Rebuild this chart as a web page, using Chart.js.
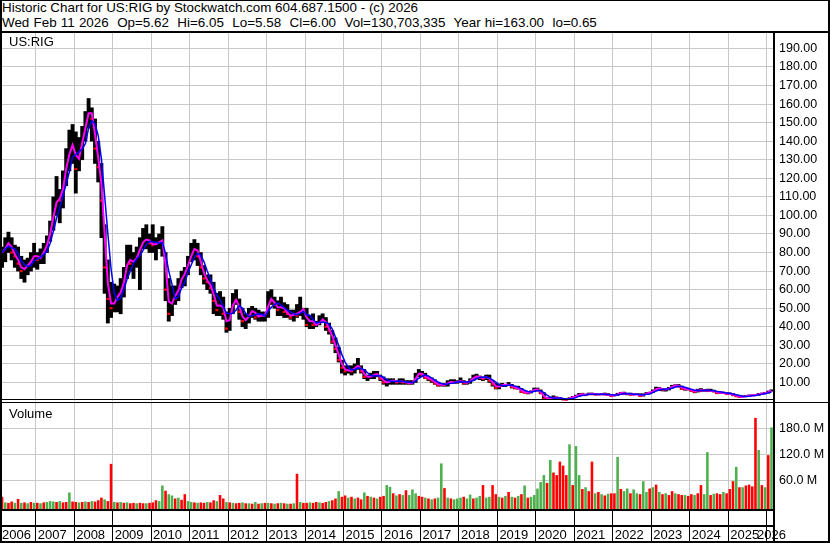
<!DOCTYPE html>
<html>
<head>
<meta charset="utf-8">
<title>Historic Chart for US:RIG</title>
<script src="https://cdn.jsdelivr.net/npm/chart.js@4.4.1/dist/chart.umd.min.js"></script>
<style>
  html, body { margin: 0; padding: 0; background: #fff; }
  #pagina { position: relative; width: 830px; height: 543px; overflow: hidden; font-family: "Liberation Sans", Arial, sans-serif; color: #000; }
  #pagina canvas { position: absolute; left: 0; }
  .linha { position: absolute; background: #000; }
  .rotulo { position: absolute; font-size: 13px; line-height: 13px; white-space: pre; }
  .cab { position: absolute; left: 2px; font-size: 13.4px; line-height: 14.7px; white-space: pre; }
  #moldura { position: absolute; left: 0; top: 0; width: 830px; height: 543px; box-sizing: border-box;
             border-style: solid; border-color: #000; border-width: 1px 2px 2px 2px; }
</style>
</head>
<body>
<div id="pagina">
  <canvas id="precos" width="830" height="368" style="top:33px"></canvas>
  <canvas id="volume" width="830" height="140" style="top:403px"></canvas>

  <div class="cab" style="top:1px">Historic Chart for US:RIG by Stockwatch.com 604.687.1500 - (c) 2026</div>
  <div class="cab" style="top:15.7px;word-spacing:0.5px">Wed Feb 11 2026  Op=5.62  Hi=6.05  Lo=5.58  Cl=6.00  Vol=130,703,335  Year hi=163.00  lo=0.65</div>

  <!-- separadores do layout -->
  <div class="linha" style="left:0;top:31px;width:830px;height:2px"></div>
  <div class="linha" style="left:773px;top:33px;width:2px;height:510px"></div>
  <div class="linha" style="left:0;top:399px;width:775px;height:1px"></div>
  <div class="linha" style="left:0;top:402px;width:830px;height:1px"></div>
  <div class="linha" style="left:0;top:509px;width:775px;height:2px"></div>
  <div class="linha" style="left:0;top:525px;width:775px;height:2px"></div>

  <div class="rotulo" style="left:9px;top:35px">US:RIG</div>
  <div class="rotulo" style="left:9px;top:407px">Volume</div>
  <div id="moldura"></div>
</div>

<script>
// Eixos / rótulos
const yearLabels = ['2006', '2007', '2008', '2009', '2010', '2011', '2012', '2013', '2014', '2015', '2016',
                    '2017', '2018', '2019', '2020', '2021', '2022', '2023', '2024', '2025', '2026'];
const priceTicks = [10, 20, 30, 40, 50, 60, 70, 80, 90, 100, 110, 120, 130, 140, 150, 160, 170, 180, 190];
const volumeTicks = [60, 120, 180];

// Dados mensais, de fev/2006 até fev/2026
const firstYear = 2006;
const firstMonth = 2;

const highs = [
  83, 88, 91, 88, 84, 83, 78, 76, 77, 80, 85,
  80, 82, 85, 89, 97, 110, 121, 114, 124, 136, 146, 149,
  145, 142, 148, 156, 163, 158, 152, 140, 128, 95, 76, 64,
  63, 62, 66, 72, 84, 84, 80, 83, 88, 93, 95, 90,
  95, 88, 90, 94, 80, 66, 62, 62, 66, 70, 72, 78,
  85, 87, 85, 80, 73, 68, 68, 64, 58, 59, 56, 48,
  50, 58, 60, 55, 50, 47, 50, 51, 50, 49, 48, 48,
  59, 60, 56, 54, 56, 53, 52, 49, 49, 52, 56, 50,
  50, 46, 47, 43, 46, 47, 45, 42, 38, 34, 29, 22,
  19, 19, 19, 20, 23, 19, 17, 14, 15, 16, 16, 14,
  13, 12, 12, 12, 11, 12, 12, 11, 11, 11, 15, 17,
  16, 15, 13, 12.5, 11.5, 10, 9.5, 9.5, 11, 11.5, 11.5, 11,
  12.5, 11, 10.5, 12, 14, 14.5, 13.5, 13, 14, 14, 11, 9.5,
  9.2, 9.5, 9, 10, 9, 8, 8, 6.8, 5.3, 4.8, 5.5, 7,
  7, 6, 4.5, 1.8, 2, 2.8, 2.2, 1.9, 1.2, 1.0, 1.8, 2.5,
  3.2, 4.1, 4.2, 3.7, 4.3, 4.3, 4, 3.7, 4, 4.3, 4, 3.3,
  3.4, 4.2, 4.7, 4.8, 4.2, 4.3, 3.8, 4, 3.9, 3.9, 4.6, 4.8,
  6, 7.5, 7.4, 6.6, 6.4, 7.4, 8.5, 8.8, 8.9, 8.1, 6.8, 6.9,
  6.4, 5.6, 6.4, 6.7, 6.2, 6.4, 6.4, 5.9, 5.3, 4.8, 4.8, 4.6,
  4.4, 4, 3.4, 2.7, 2.8, 2.9, 3.3, 3.3, 3.4, 4.1, 4.3, 4.6,
  5.4, 6.05
];

const lows = [
  72, 75, 80, 76, 72, 70, 66, 64, 68, 70, 72,
  71, 74, 74, 80, 86, 92, 100, 96, 104, 116, 124, 128,
  112, 124, 130, 140, 147, 140, 128, 118, 88, 58, 42, 45,
  48, 48, 47, 56, 66, 70, 66, 72, 60, 82, 82, 80,
  80, 76, 82, 78, 54, 43, 46, 52, 54, 61, 62, 68,
  75, 76, 73, 68, 63, 60, 58, 47, 46, 46, 44, 37,
  38, 47, 52, 44, 40, 39, 42, 45, 44, 43, 43, 43,
  45, 52, 50, 46, 46, 45, 45, 44, 43, 45, 46, 44,
  40, 39, 39, 40, 41, 43, 38, 36, 31, 26, 21, 15,
  14, 15, 14, 15, 17, 15, 12, 11, 12, 12, 13, 11,
  9, 8, 9, 9, 9, 9, 9, 9, 9, 9, 10, 13,
  13, 12, 11, 10, 9, 8, 8, 8, 8, 9.5, 9.5, 9.5,
  10, 9, 9, 9.5, 11, 12, 11.5, 11, 11.5, 10, 8, 6.5,
  6.5, 7.8, 7.8, 8.5, 7, 6.5, 6.5, 4.5, 4.3, 3.8, 4.3, 5,
  5.5, 4, 1, 1, 1.3, 1.5, 1.6, 1.1, 0.8, 0.65, 0.7, 1.6,
  2.2, 2.5, 3, 2.9, 3.3, 3.5, 3.3, 3.2, 3.3, 3.4, 3.2, 2.6,
  2.7, 3, 3.8, 3.6, 3.3, 3.2, 3.2, 3.4, 2.6, 2.6, 3.5, 3.9,
  4.5, 5.6, 5.7, 5.4, 5.3, 5.9, 6.9, 7.6, 7.6, 6.3, 5.8, 5.9,
  5.2, 4.4, 4.8, 5.2, 5.2, 5.2, 5.3, 4.9, 4, 4.1, 4, 3.7,
  3.6, 3, 2.4, 1.97, 2.1, 2.3, 2.6, 2.8, 2.9, 3, 3.8, 3.9,
  4.2, 5.3
];

const closes = [
  80, 84, 86, 80, 78, 74, 70, 72, 74, 76, 80,
  76, 78, 82, 86, 94, 104, 110, 108, 120, 130, 136, 140,
  125, 136, 142, 152, 158, 152, 136, 126, 108, 72, 55, 50,
  55, 57, 60, 68, 78, 74, 76, 78, 85, 86, 88, 85,
  84, 85, 86, 87, 60, 47, 58, 55, 64, 67, 70, 76,
  80, 84, 78, 72, 66, 64, 61, 54, 49, 54, 47, 39,
  48, 55, 54, 48, 43, 44, 47, 50, 45, 46, 46, 46,
  56, 54, 52, 49, 52, 48, 47, 45, 48, 46, 50, 49,
  41, 45, 41, 41, 43, 45, 40, 38, 32, 28, 22, 18,
  16, 17, 16, 19, 19, 16, 13, 13, 13, 15, 14, 12,
  10, 10, 11, 11, 10, 11, 10, 10, 9.5, 10, 14, 15.5,
  14, 12.5, 12, 11, 9.5, 8.5, 9, 8.5, 10.5, 10, 10, 10.5,
  11, 9.5, 10, 11.5, 13, 13.5, 12.5, 12, 13.5, 11, 9, 7,
  8.3, 8.7, 8.8, 8.8, 7.5, 7, 6.7, 5, 4.5, 4.5, 5, 6.9,
  5.8, 4.2, 1.2, 1.5, 1.6, 1.8, 1.7, 1.2, 0.82, 0.72, 1.7, 2.3,
  2.6, 3.8, 3.4, 3.2, 4, 3.7, 3.5, 3.5, 3.8, 3.5, 3.3, 2.7,
  3.2, 3.9, 4.6, 3.8, 4, 3.4, 3.6, 3.6, 2.7, 3.7, 4.3, 4.6,
  5.6, 7.2, 6.4, 6.2, 6.2, 7.1, 8.1, 8.6, 7.9, 6.6, 6.5, 6.4,
  5.5, 5, 6.3, 5.4, 6, 5.4, 5.7, 5.2, 4.3, 4.5, 4.4, 3.8,
  3.9, 3.2, 2.6, 2.2, 2.4, 2.6, 3, 3.1, 3.1, 4, 4.1, 4.2,
  5.3, 6
];

// Volume em milhões
const volumes = [
  22, 9, 8, 11, 8, 17, 8, 9, 7, 10, 8,
  8, 7, 9, 10, 12, 11, 10, 12, 9, 10, 32, 11,
  10, 9, 10, 11, 10, 12, 11, 14, 20, 16, 12, 98,
  10, 9, 10, 8, 9, 7, 8, 7, 8, 7, 7, 8,
  9, 14, 12, 48, 36, 28, 25, 18, 20, 15, 28, 12,
  10, 9, 8, 9, 8, 10, 9, 14, 12, 26, 18, 10,
  9, 8, 7, 8, 9, 7, 7, 6, 10, 6, 7, 8,
  8, 7, 6, 7, 8, 7, 6, 6, 7, 75, 10, 8,
  8, 9, 8, 10, 9, 8, 10, 12, 14, 18, 35, 22,
  25, 20, 22, 18, 20, 16, 32, 24, 22, 20, 18, 22,
  24, 49, 45, 30, 25, 28, 26, 37, 26, 39, 30, 24,
  22, 20, 18, 16, 18, 20, 99, 42, 20, 18, 16, 18,
  20, 22, 18, 27, 18, 20, 24, 49, 20, 22, 49, 28,
  22, 20, 24, 33, 22, 20, 24, 28, 48, 20, 22, 26,
  41, 56, 72, 54, 107, 78, 72, 103, 94, 72, 143, 49,
  139, 72, 40, 44, 35, 103, 30, 33, 28, 25, 29, 30,
  30, 114, 40, 35, 41, 30, 39, 30, 28, 58, 33, 41,
  44, 50, 33, 28, 30, 26, 35, 30, 28, 26, 26, 24,
  28, 26, 30, 49, 28, 125, 26, 29, 30, 28, 33, 30,
  40, 58, 91, 44, 44, 48, 50, 46, 204, 130, 49, 44,
  118, 182
];

// 1 = barra verde (alta), 0 = barra vermelha (baixa)
const volumeUp = [
  0, 1, 0, 0, 1, 0, 1, 0, 1, 0, 1,
  0, 1, 0, 1, 1, 1, 0, 1, 0, 0, 1, 0,
  0, 1, 0, 1, 0, 1, 0, 0, 0, 1, 0, 0,
  1, 0, 1, 0, 1, 0, 0, 1, 0, 0, 1, 0,
  0, 0, 1, 1, 0, 1, 1, 0, 1, 0, 0, 1,
  1, 0, 1, 0, 0, 1, 0, 0, 1, 0, 0, 1,
  0, 1, 0, 0, 1, 0, 1, 0, 1, 0, 1, 0,
  1, 0, 1, 0, 1, 0, 1, 0, 1, 0, 1, 0,
  0, 1, 0, 0, 1, 0, 0, 1, 0, 0, 1, 0,
  0, 1, 0, 1, 0, 0, 1, 0, 1, 0, 1, 0,
  0, 1, 1, 0, 1, 0, 1, 0, 1, 1, 1, 0,
  0, 1, 0, 1, 0, 1, 1, 0, 1, 0, 1, 1,
  1, 0, 1, 1, 0, 1, 1, 0, 1, 1, 0, 0,
  1, 0, 1, 0, 1, 0, 1, 0, 1, 0, 1, 1,
  1, 1, 1, 0, 1, 0, 0, 0, 0, 0, 1, 0,
  1, 1, 0, 1, 0, 0, 1, 0, 1, 0, 1, 0,
  0, 1, 0, 1, 1, 0, 1, 1, 0, 1, 1, 0,
  1, 0, 1, 0, 1, 0, 0, 1, 0, 0, 1, 0,
  0, 1, 0, 0, 1, 1, 0, 1, 0, 0, 1, 0,
  0, 0, 1, 0, 1, 0, 0, 0, 0, 1, 0, 1,
  0, 1
];

// Escalas
const X_MIN = 2006.124;
const X_MAX = 2026.164;
const PRICE_MAX = 198.3;
const VOL_MIN = -6.2;
const VOL_MAX = 238.4;

const GRID = '#c8c8c8';
const FONT = '"Liberation Sans", Arial, sans-serif';
Chart.defaults.font.family = FONT;

// Posição (em anos) do centro de cada mês
const monthPos = closes.map((_, i) => firstYear + (firstMonth - 1 + i + 0.5) / 12);
const yearTicks = yearLabels.map(Number).filter(y => y > X_MIN && y < X_MAX);

// Média móvel simples sobre os fechamentos
function mediaMovel(valores, n) {
    return valores.map((v, i) => {
        const trecho = valores.slice(Math.max(0, i - n + 1), i + 1);
        return trecho.reduce((a, b) => a + b, 0) / trecho.length;
    });
}
const shortAvg = mediaMovel(closes, 2);
const longAvg = mediaMovel(closes, 4);

// Marca vermelha no fechamento dos meses de queda
const downTicks = monthPos
    .map((x, i) => (i > 0 && closes[i] < closes[i - 1]) ? { x, y: [closes[i] - 0.6, closes[i] + 0.6] } : null)
    .filter(d => d);

function eixoX(extra) {
    return Object.assign({
        type: 'linear',
        offset: false,
        min: X_MIN,
        max: X_MAX,
        afterBuildTicks: s => { s.ticks = yearTicks.map(v => ({ value: v })); },
        ticks: { display: false },
        grid: { color: GRID, lineWidth: 1, drawTicks: false, offset: false },
        border: { display: false }
    }, extra);
}

function eixoY(min, max, ticks, formato) {
    return {
        position: 'right',
        min: min,
        max: max,
        afterBuildTicks: s => { s.ticks = ticks.map(v => ({ value: v })); },
        afterFit: s => { s.width = 57; s.paddingTop = 0; s.paddingBottom = 0; },
        ticks: { padding: 6, color: '#000', font: { size: 12.5 }, callback: formato },
        grid: { color: GRID, lineWidth: 1, drawTicks: false },
        border: { display: false }
    };
}

const comum = {
    responsive: false,
    animation: false,
    events: [],
    layout: { padding: { left: 2, right: 0, top: 0, bottom: 0 } },
    plugins: { legend: { display: false }, tooltip: { enabled: false } }
};

// Painel de preços
new Chart(document.getElementById('precos'), {
    type: 'bar',
    data: {
        datasets: [
            {
                type: 'line',
                data: monthPos.map((x, i) => ({ x, y: longAvg[i] })),
                borderColor: '#0000ff',
                borderWidth: 1.5,
                pointRadius: 0,
                tension: 0,
                order: 0
            },
            {
                type: 'line',
                data: monthPos.map((x, i) => ({ x, y: shortAvg[i] })),
                borderColor: '#ff00ff',
                borderWidth: 2,
                pointRadius: 0,
                tension: 0,
                order: 1
            },
            {
                data: downTicks,
                backgroundColor: '#ff0000',
                barPercentage: 0.9,
                categoryPercentage: 1,
                grouped: false,
                order: 2
            },
            {
                data: monthPos.map((x, i) => ({ x, y: [lows[i], highs[i]] })),
                backgroundColor: '#000000',
                barPercentage: 1,
                categoryPercentage: 1,
                grouped: false,
                order: 3
            }
        ]
    },
    options: Object.assign({}, comum, {
        scales: {
            x: eixoX({}),
            y: eixoY(0, PRICE_MAX, priceTicks, v => v.toFixed(2))
        }
    })
});

// Rótulos dos anos, alinhados à esquerda de cada divisão
const rotulosAnos = {
    id: 'rotulosAnos',
    afterDraw(chart) {
        const xs = chart.scales.x;
        const ctx = chart.ctx;
        ctx.save();
        ctx.font = '13px ' + FONT;
        ctx.fillStyle = '#000';
        ctx.textAlign = 'left';
        ctx.textBaseline = 'alphabetic';
        yearLabels.forEach(lbl => {
            let px = xs.getPixelForValue(Number(lbl)) + 2;
            px = Math.max(chart.chartArea.left, Math.min(px, chart.chartArea.right - 16));
            ctx.fillText(lbl, px, xs.top + 30);
        });
        ctx.restore();
    }
};

// Painel de volume
new Chart(document.getElementById('volume'), {
    type: 'bar',
    data: {
        datasets: [{
            data: monthPos.map((x, i) => ({ x, y: [VOL_MIN, volumes[i]] })),
            backgroundColor: volumeUp.map(u => u ? '#4cb04c' : '#ff0000'),
            barPercentage: 0.8,
            categoryPercentage: 1
        }]
    },
    options: Object.assign({}, comum, {
        scales: {
            x: eixoX({
                grid: { color: GRID, lineWidth: 1, drawTicks: true, tickLength: 32, tickColor: '#000', tickWidth: 1, offset: false },
                afterFit: s => { s.height = 34; }
            }),
            y: eixoY(VOL_MIN, VOL_MAX, volumeTicks, v => v.toFixed(1) + ' M')
        }
    }),
    plugins: [rotulosAnos]
});
</script>
</body>
</html>
